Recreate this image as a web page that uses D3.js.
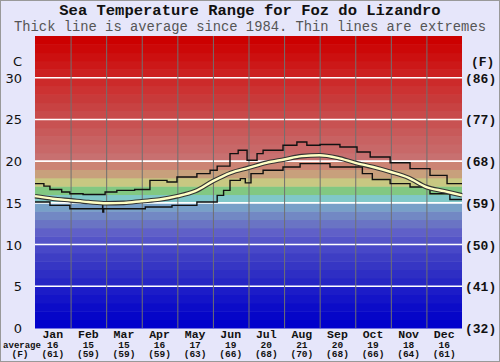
<!DOCTYPE html>
<html><head><meta charset="utf-8">
<script src="https://cdn.jsdelivr.net/npm/d3@7"></script>
<style>body{margin:0;background:#e6e6fa;}svg{display:block}</style>
</head><body>
<script>
// ---- data ----
const months = ["Jan","Feb","Mar","Apr","May","Jun","Jul","Aug","Sep","Oct","Nov","Dec"];
const monthAvgC = [16,15,15,16,17,19,20,21,20,19,18,16];
const monthAvgF = [61,59,59,59,63,66,68,70,68,66,64,61];
const yTicksC = [0,5,10,15,20,25,30];
const yTicksF = [32,41,50,59,68,77,86];
// position in months (0..12), temperature C
const avgPos = [0,0.5,1,1.5,2,2.5,3,3.5,4,4.5,5,5.5,6,6.5,7,7.5,8,8.5,9,9.5,10,10.5,11,11.5,12];
const avgVal = [15.8,15.5,15.3,15.1,14.95,15.0,15.2,15.4,15.8,16.4,17.6,18.6,19.2,19.8,20.2,20.6,20.7,20.4,19.8,19.3,18.7,18.0,16.9,16.4,15.9];
const maxPos = [0,0.25,0.42,0.75,0.98,1.35,1.97,2.3,2.8,3.23,3.71,3.99,4.55,4.92,5.12,5.48,5.71,5.96,6.24,6.41,6.97,7.36,7.64,8.01,8.57,9.05,9.42,9.98,10.54,11.1,11.58,12];
const maxVal = [17.3,17.0,16.6,16.3,16.1,16.0,16.3,16.5,16.6,17.7,17.5,18.1,18.5,18.9,19.4,20.9,21.3,20.1,20.9,21.3,21.9,22.3,21.9,22.0,21.7,21.1,20.5,19.8,19.1,18.3,17.3,17.3];
const minPos = [0,0.42,0.98,1.9,1.905,1.93,3.1,3.85,4.55,5.12,5.3,5.48,5.77,5.91,6.07,6.41,6.97,7.45,8.29,9.2,9.48,9.98,10.54,11.1,11.66,12];
const minVal = [15.1,14.7,14.3,14.9,13.9,14.3,14.5,14.7,15.1,15.9,16.5,17.7,17.9,17.4,18.5,18.9,19.3,19.7,19.3,18.5,17.8,17.3,16.9,16.1,15.4,15.4];
// background palette, one colour per degree from 0 to 35
const bandColors = ["#0000cc","#0606c8","#0c0cc8","#1414c8","#1c1cc8",
 "#2626c4","#2e2ec4","#3636c4","#3e3ec4","#4848c8",
 "#5454c8","#6060c8","#6a74c4","#7288c4","#78a0c8",
 "#80c8c8","#82c882","#c8c882","#c8a07c","#cc8474",
 "#c87070","#c86868","#c86262","#c85a5a","#c85252",
 "#c84a4a","#c84242","#c83a3a","#cc3232","#cc2a2a",
 "#cc2020","#cc1818","#cc1010","#cc0808","#cc0000"];

const W=500,H=362;
const svg=d3.select("body").append("svg").attr("width",W).attr("height",H);
svg.append("rect").attr("x",0.5).attr("y",0.5).attr("width",W-1).attr("height",H-1)
  .attr("fill","#e6e6fa").attr("stroke","#999");

const x=d3.scaleLinear().domain([0,12]).range([35,462]);
const y=d3.scaleLinear().domain([0,35]).range([328,36]);

// bands
svg.append("g").selectAll("rect").data(bandColors).join("rect")
  .attr("x",x(0)).attr("width",x(12)-x(0))
  .attr("y",(c,i)=>y(i+1)).attr("height",(c,i)=>y(i)-y(i+1)+0.5)
  .attr("fill",c=>c);

// white horizontal grid
svg.append("g").selectAll("line").data(yTicksC.filter(v=>v>0)).join("line")
  .attr("x1",x(0)).attr("x2",x(12)).attr("y1",d=>y(d)).attr("y2",d=>y(d))
  .attr("stroke","#fff").attr("stroke-width",1.6);
// month grid
svg.append("g").selectAll("line").data(d3.range(1,12)).join("line")
  .attr("x1",d=>x(d)+0.5).attr("x2",d=>x(d)+0.5).attr("y1",y(35)).attr("y2",y(0))
  .attr("stroke","#707070").attr("stroke-width",1);

const zip=(p,v)=>p.map((d,i)=>[d,v[i]]);
const step=d3.line().x(d=>x(d[0])).y(d=>y(d[1])).curve(d3.curveStepAfter);
const smooth=d3.line().x(d=>x(d[0])).y(d=>y(d[1])).curve(d3.curveMonotoneX);

svg.append("path").attr("d",step(zip(maxPos,maxVal))).attr("fill","none").attr("stroke","#111").attr("stroke-width",1.4);
svg.append("path").attr("d",step(zip(minPos,minVal))).attr("fill","none").attr("stroke","#111").attr("stroke-width",1.4);
svg.append("path").attr("d",smooth(zip(avgPos,avgVal))).attr("fill","none").attr("stroke","#333").attr("stroke-width",4.6);
svg.append("path").attr("d",smooth(zip(avgPos,avgVal))).attr("fill","none").attr("stroke","#ffffc4").attr("stroke-width",2.4);

// titles
svg.append("text").attr("x",250).attr("y",15).attr("text-anchor","middle")
  .attr("font-family","Liberation Mono, monospace").attr("font-weight","bold").attr("font-size",15.5)
  .attr("fill","#111").text("Sea Temperature Range for Foz do Lizandro");
svg.append("text").attr("x",250).attr("y",31).attr("text-anchor","middle")
  .attr("font-family","Liberation Mono, monospace").attr("font-size",13.8)
  .attr("fill","#555").text("Thick line is average since 1984. Thin lines are extremes");

// left axis
const leftG=svg.append("g").attr("font-family","DejaVu Sans, sans-serif").attr("font-size",13).attr("fill","#111");
leftG.selectAll("text").data(yTicksC).join("text")
  .attr("x",22).attr("y",d=>y(d)+5).attr("text-anchor","end").text(d=>d);
leftG.append("text").attr("x",22).attr("y",66).attr("text-anchor","end").text("C");

// right axis
const rightG=svg.append("g").attr("font-family","Liberation Mono, monospace").attr("font-weight","bold").attr("font-size",13).attr("fill","#111");
rightG.selectAll("text").data(yTicksF).join("text")
  .attr("x",465).attr("y",(d,i)=>y(yTicksC[i])+5).text(d=>"("+d+")");
rightG.append("text").attr("x",471).attr("y",66).text("(F)");

// bottom labels
const bot=svg.append("g").attr("font-family","Liberation Mono, monospace").attr("font-weight","bold").attr("fill","#111");
bot.selectAll(".m").data(months).join("text").attr("class","m")
  .attr("x",(d,i)=>x(i+0.5)).attr("y",338).attr("text-anchor","middle").attr("font-size",11.5).text(d=>d);
bot.selectAll(".c").data(monthAvgC).join("text").attr("class","c")
  .attr("x",(d,i)=>x(i+0.5)).attr("y",347.5).attr("text-anchor","middle").attr("font-size",9.5).text(d=>d);
bot.selectAll(".f").data(monthAvgF).join("text").attr("class","f")
  .attr("x",(d,i)=>x(i+0.5)).attr("y",357).attr("text-anchor","middle").attr("font-size",9.5).text(d=>"("+d+")");
bot.append("text").attr("x",22).attr("y",347.5).attr("text-anchor","middle").attr("font-size",9).text("average");
bot.append("text").attr("x",20).attr("y",357).attr("text-anchor","middle").attr("font-size",9.5).text("(F)");
</script>
</body></html>
